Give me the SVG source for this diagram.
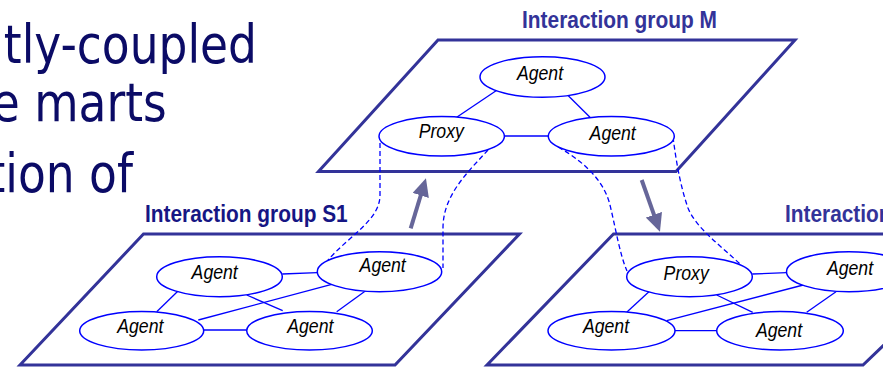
<svg xmlns="http://www.w3.org/2000/svg" width="883" height="367" viewBox="0 0 883 367">
  <style>
    .plane { fill: #ffffff; stroke: #333399; stroke-width: 3; stroke-linejoin: miter; }
    .title { font-family: "Liberation Sans", Arial, sans-serif; font-weight: bold; font-size: 23px; fill: #333399; }
    .title.dark { fill: #161684; }
    .node ellipse { fill: #ffffff; stroke: #0000ff; stroke-width: 1.5; }
    .node text { font-family: "Liberation Sans", Arial, sans-serif; font-style: italic; font-size: 19.5px; fill: #000000; text-anchor: middle; }
    .link { stroke: #0000ff; stroke-width: 1.3; fill: none; }
    .bridge { stroke: #0000ff; stroke-width: 1.3; fill: none; stroke-dasharray: 5 3; }
    .move { stroke: #666699; stroke-width: 4; fill: none; marker-end: url(#head); }
    .slide { font-family: "DejaVu Sans", Verdana, sans-serif; font-size: 53px; fill: #0b0b66; text-anchor: end; }
  </style>
  <defs>
    <marker id="head" markerUnits="userSpaceOnUse" markerWidth="18" markerHeight="17" refX="1" refY="8.5" orient="auto">
      <path d="M0,0 L18,8.5 L0,17 Z" fill="#666699"/>
    </marker>
  </defs>

  <!-- slide body text, clipped at the left edge -->
  <g id="slide-text" transform="scale(0.859,1)">
    <text class="slide" x="299.2" y="63">tly-coupled</text>
    <text class="slide" x="194.1" y="120.7">e marts</text>
    <text class="slide" x="154.8" y="191.7">tion of</text>
  </g>

  <!-- group planes -->
  <g id="plane-M">
    <polygon class="plane" points="438,40 795,40 676,171.5 318.5,171.5"/>
    <text class="title" x="522" y="28" textLength="195" lengthAdjust="spacingAndGlyphs">Interaction group M</text>
  </g>
  <g id="plane-S1">
    <polygon class="plane" points="143.5,234 519.5,234 395,365 20,365"/>
    <text class="title dark" x="145" y="222.3" textLength="202.7" lengthAdjust="spacingAndGlyphs">Interaction group S1</text>
  </g>
  <g id="plane-S2">
    <polygon class="plane" points="613.5,234 1000,234 863,365 487,365"/>
    <text class="title" x="785" y="221.7" textLength="106.5" lengthAdjust="spacingAndGlyphs">Interaction</text>
  </g>

  <!-- connectors -->
  <g id="connectors">
    <!-- proxy bridges between groups -->
    <path class="bridge" d="M380,135 L380,195 C380,220 350,235 328,260"/>
    <path class="bridge" d="M488,150 C468,172 443,195 443,228 L443,268"/>
    <path class="bridge" d="M558,147 C590,165 605,185 610,205 C616,230 620,255 627,271"/>
    <path class="bridge" d="M673,137 C676,160 680,185 688,208 C696,228 720,245 740,264"/>

    <!-- group M links -->
    <line class="link" x1="498.3" y1="89.3" x2="456.7" y2="117.3"/>
    <line class="link" x1="568.3" y1="95.7" x2="590" y2="117.3"/>
    <line class="link" x1="504.3" y1="136" x2="548.3" y2="136"/>

    <!-- group S1 links -->
    <line class="link" x1="282.3" y1="274" x2="317.3" y2="272.7"/>
    <line class="link" x1="178.3" y1="290.7" x2="156.7" y2="311.7"/>
    <line class="link" x1="246.7" y1="295" x2="282.7" y2="310.7"/>
    <line class="link" x1="198.3" y1="320" x2="331.7" y2="284.3"/>
    <line class="link" x1="203.3" y1="330" x2="246.7" y2="330"/>
    <line class="link" x1="336.7" y1="311.7" x2="366.7" y2="290"/>

    <!-- group S2 links -->
    <line class="link" x1="752.3" y1="274" x2="786.7" y2="272.7"/>
    <line class="link" x1="650" y1="290.7" x2="626.7" y2="312.3"/>
    <line class="link" x1="716.7" y1="295" x2="752.7" y2="312.3"/>
    <line class="link" x1="666.7" y1="320.7" x2="803.3" y2="285"/>
    <line class="link" x1="675" y1="330.7" x2="716.7" y2="330.7"/>
    <line class="link" x1="806.7" y1="312.3" x2="836" y2="291.7"/>

    <!-- movement arrows -->
    <line class="move" x1="410.7" y1="228.3" x2="421" y2="194.5"/>
    <line class="move" x1="641.7" y1="180" x2="654.3" y2="215.7"/>
  </g>

  <!-- group M nodes -->
  <g id="m-agent-top" class="node">
    <ellipse cx="542.5" cy="77" rx="62.5" ry="20.3"/>
    <text x="540" y="80" textLength="46.2" lengthAdjust="spacingAndGlyphs">Agent</text>
  </g>
  <g id="m-proxy" class="node">
    <ellipse cx="441.7" cy="136.3" rx="62.7" ry="19.7"/>
    <text x="441.3" y="138.3" textLength="45.2" lengthAdjust="spacingAndGlyphs">Proxy</text>
  </g>
  <g id="m-agent-right" class="node">
    <ellipse cx="611.3" cy="136.3" rx="63" ry="19.7"/>
    <text x="612.7" y="140" textLength="46.2" lengthAdjust="spacingAndGlyphs">Agent</text>
  </g>

  <!-- group S1 nodes -->
  <g id="s1-agent-tl" class="node">
    <ellipse cx="219.5" cy="276.7" rx="62.8" ry="20"/>
    <text x="214.7" y="279.3" textLength="46.2" lengthAdjust="spacingAndGlyphs">Agent</text>
  </g>
  <g id="s1-agent-tr" class="node">
    <ellipse cx="379.5" cy="271.7" rx="62.2" ry="20"/>
    <text x="382.7" y="271.7" textLength="46.2" lengthAdjust="spacingAndGlyphs">Agent</text>
  </g>
  <g id="s1-agent-bl" class="node">
    <ellipse cx="141.7" cy="330.8" rx="62" ry="19.2"/>
    <text x="140.3" y="333.3" textLength="46.2" lengthAdjust="spacingAndGlyphs">Agent</text>
  </g>
  <g id="s1-agent-bm" class="node">
    <ellipse cx="309.5" cy="330.8" rx="62.8" ry="19.2"/>
    <text x="310.3" y="333.3" textLength="46.2" lengthAdjust="spacingAndGlyphs">Agent</text>
  </g>

  <!-- group S2 nodes -->
  <g id="s2-proxy" class="node">
    <ellipse cx="689.5" cy="276.7" rx="62.8" ry="20"/>
    <text x="686.2" y="280" textLength="45.2" lengthAdjust="spacingAndGlyphs">Proxy</text>
  </g>
  <g id="s2-agent-right" class="node">
    <ellipse cx="849" cy="271.7" rx="62.5" ry="20"/>
    <text x="850" y="275" textLength="46.2" lengthAdjust="spacingAndGlyphs">Agent</text>
  </g>
  <g id="s2-agent-bl" class="node">
    <ellipse cx="611.5" cy="330.8" rx="63.5" ry="19.2"/>
    <text x="606" y="333.3" textLength="46.2" lengthAdjust="spacingAndGlyphs">Agent</text>
  </g>
  <g id="s2-agent-bm" class="node">
    <ellipse cx="780" cy="330.8" rx="63.3" ry="19.2"/>
    <text x="779" y="336.7" textLength="46.2" lengthAdjust="spacingAndGlyphs">Agent</text>
  </g>
</svg>
